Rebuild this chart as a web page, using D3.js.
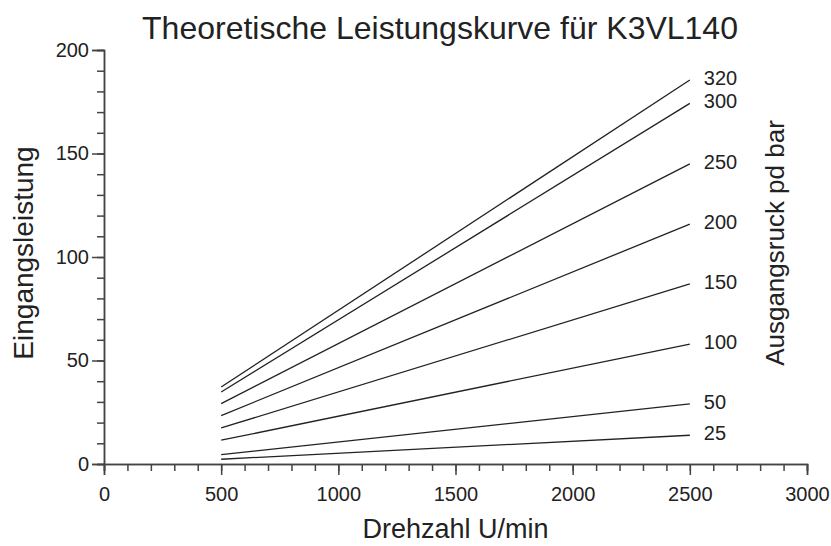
<!DOCTYPE html>
<html>
<head>
<meta charset="utf-8">
<script src="https://cdn.jsdelivr.net/npm/d3@7"></script>
<style>
  body { margin: 0; background: #fff; }
  svg text { font-family: "Liberation Sans", Arial, sans-serif; fill: #222; }
</style>
</head>
<body>
<div id="chart"></div>
<script>
// pressure curves (Ausgangsdruck in bar), power read at 500 and 2500 U/min
let pressures = [320, 300, 250, 200, 150, 100, 50, 25];
let speeds = [500, 2500];
let powerAt500 = [37.2, 34.8, 29.2, 23.4, 17.4, 11.5, 4.5, 2.3];
let powerAt2500 = [185.5, 174.2, 145.0, 115.9, 87.0, 57.9, 29.0, 13.9];

let xMajor = [0, 500, 1000, 1500, 2000, 2500, 3000];
let yMajor = [0, 50, 100, 150, 200];

let margin = {top: 50, right: 24, bottom: 82, left: 104}
    , width = 831 - margin.left - margin.right
    , height = 546 - margin.top - margin.bottom;

let svg = d3.select("#chart").append("svg")
    .attr("width", 831)
    .attr("height", 546);

let g = svg.append("g")
    .attr("transform", "translate(" + margin.left + "," + margin.top + ")");

let x = d3.scaleLinear().domain([0, 3000]).range([0, width]);
let y = d3.scaleLinear().domain([0, 200]).range([height, 0]);

// minor ticks first, then the major axis on top
g.append("g")
    .attr("transform", "translate(0," + height + ")")
    .attr("class", "xminor")
    .call(d3.axisBottom(x).tickValues(d3.range(0, 3001, 100)).tickSize(7).tickFormat(""));

g.append("g")
    .attr("transform", "translate(0," + height + ")")
    .attr("class", "xaxis")
    .call(d3.axisBottom(x).tickValues(xMajor).tickSize(11).tickPadding(12).tickFormat(d3.format("d")));

g.append("g")
    .attr("class", "yminor")
    .call(d3.axisLeft(y).tickValues(d3.range(0, 201, 10)).tickSize(7).tickFormat(""));

g.append("g")
    .attr("class", "yaxis")
    .call(d3.axisLeft(y).tickValues(yMajor).tickSize(12).tickPadding(3));

g.selectAll(".domain, .tick line")
    .attr("stroke", "#444")
    .attr("stroke-width", 1.5);

g.selectAll(".xaxis text, .yaxis text")
    .style("font-size", "20px")
    .attr("fill", "#222");

let rows = pressures.map((p, i) => ({
    p: p,
    pts: [[speeds[0], powerAt500[i]], [speeds[1], powerAt2500[i]]]
}));

let line = d3.line()
    .x(d => x(d[0]))
    .y(d => y(d[1]));

g.selectAll(".curve")
    .data(rows)
    .enter().append("path")
    .attr("class", "curve")
    .attr("d", d => line(d.pts))
    .attr("fill", "none")
    .attr("stroke", "#222")
    .attr("stroke-width", 1.3);

g.selectAll(".curvelabel")
    .data(rows)
    .enter().append("text")
    .attr("class", "curvelabel")
    .attr("x", d => x(d.pts[1][0]) + 14)
    .attr("y", d => y(d.pts[1][1]) - 2)
    .attr("dy", "0.35em")
    .style("font-size", "20px")
    .text(d => d.p);

svg.append("text")
    .attr("x", 440)
    .attr("y", 39)
    .attr("text-anchor", "middle")
    .style("font-size", "32px")
    .text("Theoretische Leistungskurve für K3VL140");

svg.append("text")
    .attr("x", margin.left + width / 2)
    .attr("y", 538)
    .attr("text-anchor", "middle")
    .style("font-size", "27px")
    .text("Drehzahl U/min");

svg.append("text")
    .attr("transform", "translate(33,253) rotate(-90)")
    .attr("text-anchor", "middle")
    .style("font-size", "28px")
    .text("Eingangsleistung");

svg.append("text")
    .attr("transform", "translate(784,243) rotate(-90)")
    .attr("text-anchor", "middle")
    .style("font-size", "26px")
    .text("Ausgangsruck pd bar");
</script>
</body>
</html>
